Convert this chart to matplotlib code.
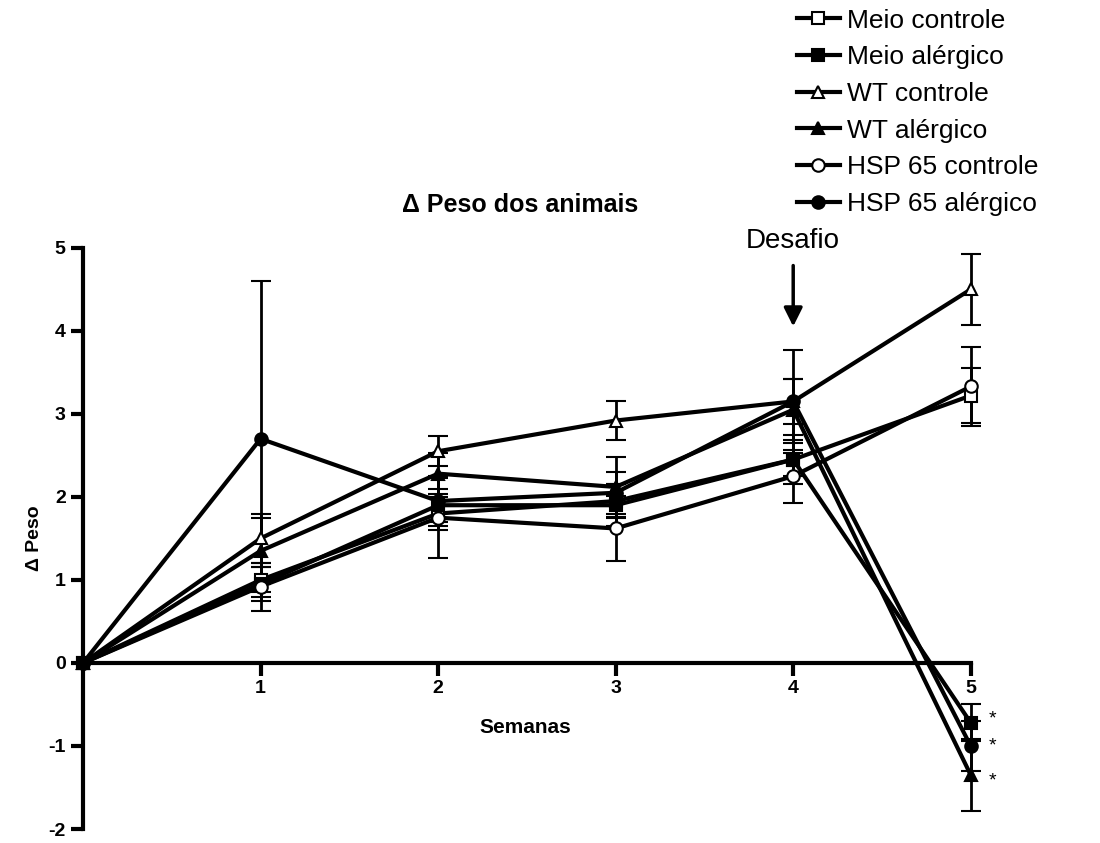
import numpy as np
import matplotlib
matplotlib.use("Agg")
import matplotlib.pyplot as plt
from matplotlib.lines import Line2D

plt.rcParams['font.family'] = ['Liberation Sans', 'DejaVu Sans']
plt.rcParams['axes.unicode_minus'] = False

semanas = [0, 1, 2, 3, 4, 5]

meio_controle = [0, 1.00, 1.80, 1.95, 2.45, 3.22]
meio_controle_err = [0, 0.15, 0.20, 0.20, 0.20, 0.33]
meio_alergico = [0, 0.95, 1.90, 1.90, 2.45, -0.72]
meio_alergico_err = [0, 0.20, 0.20, 0.25, 0.30, 0.22]
wt_controle = [0, 1.50, 2.55, 2.92, 3.15, 4.50]
wt_controle_err = [0, 0.30, 0.18, 0.23, 0.27, 0.43]
wt_alergico = [0, 1.35, 2.28, 2.12, 3.05, -1.35]
wt_alergico_err = [0, 0.40, 0.25, 0.36, 0.37, 0.43]
hsp_controle = [0, 0.92, 1.75, 1.62, 2.25, 3.33]
hsp_controle_err = [0, 0.29, 0.48, 0.39, 0.32, 0.48]
hsp_alergico = [0, 2.70, 1.95, 2.05, 3.15, -1.00]
hsp_alergico_err = [0, 1.90, 0.30, 0.25, 0.62, 0.30]

series = [
    ("Meio controle", meio_controle, meio_controle_err, 's', 'white'),
    ("Meio alérgico", meio_alergico, meio_alergico_err, 's', 'black'),
    ("WT controle", wt_controle, wt_controle_err, '^', 'white'),
    ("WT alérgico", wt_alergico, wt_alergico_err, '^', 'black'),
    ("HSP 65 controle", hsp_controle, hsp_controle_err, 'o', 'white'),
    ("HSP 65 alérgico", hsp_alergico, hsp_alergico_err, 'o', 'black'),
]

fig = plt.figure(figsize=(11, 8.43), dpi=100)
ax = fig.add_axes([0.0755, 0.0166, 0.807, 0.6894])

handles = []
for name, y, e, m, fc in series:
    ax.errorbar(semanas, y, yerr=e, color='black', lw=3, marker=m, ms=9,
                mfc=fc, mec='black', mew=1.5, ecolor='black', elinewidth=2,
                capsize=7, capthick=2, clip_on=False, zorder=3)
    handles.append(Line2D([], [], color='black', lw=3, marker=m, ms=9,
                          mfc=fc, mec='black', mew=1.5, label=name))

ax.set_xlim(0, 5)
ax.set_ylim(-2, 5)
ax.spines['bottom'].set_position(('data', 0))
ax.spines['top'].set_visible(False)
ax.spines['right'].set_visible(False)
ax.spines['left'].set_linewidth(3)
ax.spines['bottom'].set_linewidth(3)
ax.set_xticks([1, 2, 3, 4, 5])
ax.set_yticks([-2, -1, 0, 1, 2, 3, 4, 5])
ax.tick_params(axis='both', width=3, length=9, direction='out', labelsize=14)
for lab in ax.get_xticklabels() + ax.get_yticklabels():
    lab.set_fontweight('bold')

ax.set_ylabel("Δ Peso", fontsize=14, fontweight='bold', labelpad=4)
ax.text(2.49, -0.78, "Semanas", fontsize=15, fontweight='bold', ha='center', va='center')
fig.text(0.473, 0.757, "Δ Peso dos animais", fontsize=18, fontweight='bold',
         ha='center', va='center')

ax.annotate("", xy=(4, 4.02), xytext=(4, 4.82),
            arrowprops=dict(arrowstyle='-|>', color='black', lw=2.5, mutation_scale=28),
            annotation_clip=False)
ax.text(4, 4.92, "Desafio", fontsize=20, ha='center', va='bottom')

for yv in [-0.68, -1.0, -1.42]:
    ax.text(5.12, yv, "*", fontsize=14, ha='center', va='center')

fig.legend(handles=handles, loc='upper left', bbox_to_anchor=(0.72, 0.996),
           frameon=False, fontsize=19, handlelength=1.6, handletextpad=0.3,
           labelspacing=0.48, borderaxespad=0, borderpad=0.2)

plt.savefig("out.png", dpi=100)
